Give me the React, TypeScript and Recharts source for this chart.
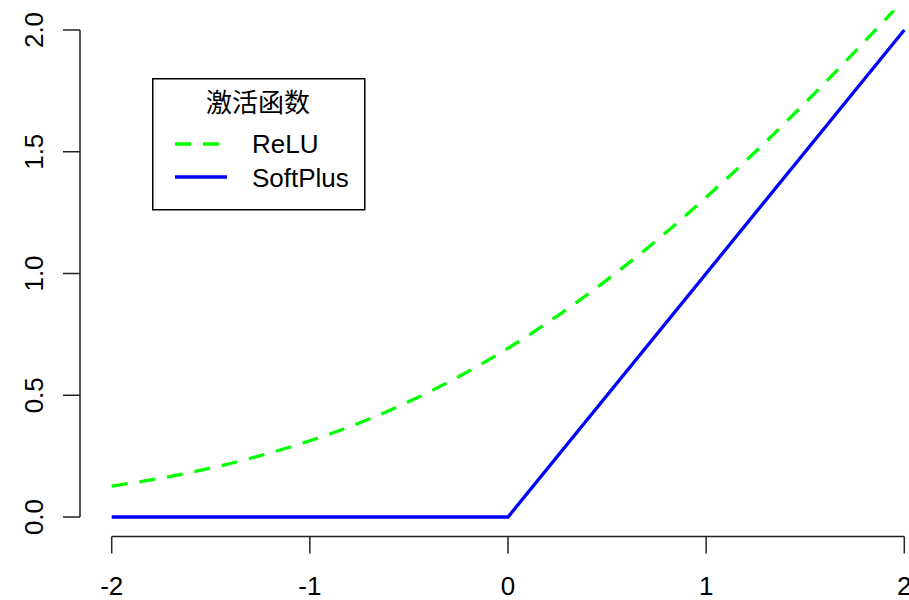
import React from 'react';
import { LineChart, Line, XAxis, YAxis, ReferenceLine, Legend } from 'recharts';

// values
const curveX = [-2, -1.75, -1.5, -1.25, -1, -0.75, -0.5, -0.25, 0, 0.25, 0.5, 0.75, 1, 1.25, 1.5, 1.75, 2];
const curveY = [0.127, 0.16, 0.201, 0.252, 0.313, 0.386, 0.474, 0.576, 0.693, 0.826, 0.974, 1.136, 1.313, 1.501, 1.701, 1.91, 2.127];
const kinkX = [-2, 0, 2];
const kinkY = [0, 0, 2];
const xTicks = [-2, -1, 0, 1, 2];
const yTicks = [0, 0.5, 1, 1.5, 2];
const legendTitle = '激活函数';
const seriesNames = ['ReLU', 'SoftPlus'];

const greenData = curveX.map((x, i) => ({ x, y: curveY[i] }));
const blueData = kinkX.map((x, i) => ({ x, y: kinkY[i] }));

const FONT = '"Liberation Sans", Arial, sans-serif';

const YTick = (props: any) => {
  const { x, y, payload } = props;
  return (
    <text
      x={x}
      y={y}
      transform={`rotate(-90, ${x}, ${y})`}
      textAnchor="middle"
      fontSize={26}
      fontFamily={FONT}
      fill="#000"
    >
      {payload.value.toFixed(1)}
    </text>
  );
};

const XTick = (props: any) => {
  const { x, y, payload } = props;
  return (
    <text x={x} y={y} dy="0.71em" textAnchor="middle" fontSize={26} fontFamily={FONT} fill="#000">
      {payload.value}
    </text>
  );
};

const LegendBox = () => (
  <svg width={214} height={133} style={{ display: 'block' }}>
    <rect x={0.75} y={0.75} width={212} height={131} fill="#fff" stroke="#000" strokeWidth={1.5} />
    <text x={106} y={34} textAnchor="middle" fontSize={26} fontFamily='"Noto Sans CJK SC", sans-serif' fill="#000">
      {legendTitle}
    </text>
    <line x1={23} y1={66} x2={67} y2={66} stroke="#00ff00" strokeWidth={3.3} strokeDasharray="16 12" />
    <text x={100} y={75} fontSize={26} fontFamily={FONT} fill="#000">{seriesNames[0]}</text>
    <line x1={23} y1={99} x2={75} y2={99} stroke="#0000ff" strokeWidth={3.3} />
    <text x={100} y={109} fontSize={26} fontFamily={FONT} fill="#000">{seriesNames[1]}</text>
  </svg>
);

export default function App() {
  return (
    <div style={{ position: 'absolute', left: 0, top: 0, width: 909, height: 600, overflow: 'hidden', background: '#fff' }}>
      <LineChart width={960} height={600} margin={{ top: 10.5, right: 24, bottom: 0, left: 0 }}>
        <XAxis
          type="number"
          dataKey="x"
          domain={[-2.16, 2.16]}
          ticks={xTicks}
          axisLine={false}
          tickSize={17}
          tickMargin={23}
          tickLine={{ stroke: '#222', strokeWidth: 1.5 }}
          tick={<XTick />}
          height={63.5}
          allowDataOverflow
        />
        <YAxis
          type="number"
          dataKey="y"
          domain={[-0.08, 2.08]}
          ticks={yTicks}
          axisLine={false}
          tickSize={17}
          tickMargin={20}
          tickLine={{ stroke: '#222', strokeWidth: 1.5 }}
          tick={<YTick />}
          width={80}
          allowDataOverflow
        />
        <ReferenceLine
          segment={[{ x: -2.16, y: 0 }, { x: -2.16, y: 2 }]}
          stroke="#222"
          strokeWidth={1.5}
          ifOverflow="visible"
        />
        <ReferenceLine
          segment={[{ x: -2, y: -0.08 }, { x: 2, y: -0.08 }]}
          stroke="#222"
          strokeWidth={1.5}
          ifOverflow="visible"
        />
        <Line
          data={greenData}
          dataKey="y"
          type="monotone"
          stroke="#00ff00"
          strokeWidth={3.3}
          strokeDasharray="16 12"
          dot={false}
          isAnimationActive={false}
        />
        <Line
          data={blueData}
          dataKey="y"
          type="linear"
          stroke="#0000ff"
          strokeWidth={3.3}
          dot={false}
          isAnimationActive={false}
        />
        <Legend
          layout="vertical"
          align="center"
          verticalAlign="middle"
          wrapperStyle={{ left: 152, top: 78, width: 214, height: 133 }}
          content={<LegendBox />}
        />
      </LineChart>
    </div>
  );
}
